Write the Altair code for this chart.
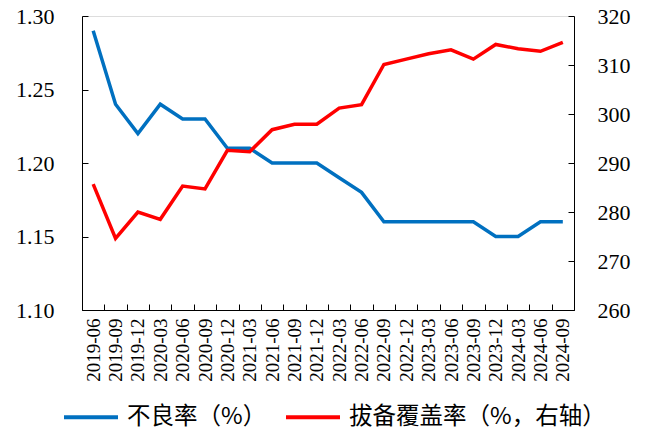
import altair as alt
import pandas as pd

categories = ["2019-06", "2019-09", "2019-12", "2020-03", "2020-06", "2020-09",
              "2020-12", "2021-03", "2021-06", "2021-09", "2021-12", "2022-03",
              "2022-06", "2022-09", "2022-12", "2023-03", "2023-06", "2023-09",
              "2023-12", "2024-03", "2024-06", "2024-09"]
npl = [1.29, 1.24, 1.22, 1.24, 1.23, 1.23, 1.21, 1.21, 1.20, 1.20, 1.20, 1.19,
       1.18, 1.16, 1.16, 1.16, 1.16, 1.16, 1.15, 1.15, 1.16, 1.16]
coverage = [285.7, 274.6, 280.0, 278.5, 285.3, 284.7, 292.6, 292.3, 296.8, 297.9,
            297.9, 301.2, 301.9, 310.1, 311.2, 312.3, 313.1, 311.2, 314.2, 313.3,
            312.8, 314.6]
series_names = ["不良率（%）", "拔备覆盖率（%，右轴）"]
series_colors = ["#0070C0", "#FF0000"]
left_ticks = [1.10, 1.15, 1.20, 1.25, 1.30]
right_ticks = [260, 270, 280, 290, 300, 310, 320]

df_npl = pd.DataFrame({"period": categories, "value": npl, "series": series_names[0]})
df_cov = pd.DataFrame({"period": categories, "value": coverage, "series": series_names[1]})

serif = "Liberation Serif"
W, H = 492, 294
TICK = 6

x_enc = alt.X(
    "period:O", sort=categories,
    scale=alt.Scale(type="band", paddingInner=0, paddingOuter=0),
    axis=alt.Axis(title=None, labelAngle=270, ticks=False, grid=True,
                  gridDash=[0, H - TICK, TICK, 2000], gridColor="#000000", gridWidth=1,
                  tickBand="extent", labelPadding=8, labelFontSize=19,
                  labelFont=serif, labelColor="#000000", domainColor="#000000",
                  labelBaseline="middle", labelAlign="right"),
)

color_enc = alt.Color(
    "series:N",
    scale=alt.Scale(domain=series_names, range=series_colors),
    legend=alt.Legend(title=None, orient="none", direction="horizontal",
                      legendX=-20, legendY=372, symbolType="stroke",
                      symbolSize=2916, symbolStrokeWidth=4, labelOffset=7,
                      columnPadding=11, labelFont="Noto Sans CJK SC",
                      labelFontSize=23.5, labelColor="#000000", labelLimit=400),
)

left = alt.Chart(df_npl).mark_line(strokeWidth=3.5).encode(
    x=x_enc,
    y=alt.Y("value:Q", scale=alt.Scale(domain=[1.10, 1.30], zero=False, nice=False),
            axis=alt.Axis(title=None, orient="left", values=left_ticks, format=".2f",
                          ticks=False, grid=True, gridDash=[TICK, 2000],
                          gridColor="#000000", gridWidth=1, labelPadding=28,
                          labelFontSize=22, labelFont=serif, labelColor="#000000",
                          domainColor="#000000")),
    color=color_enc,
)

right = alt.Chart(df_cov).mark_line(strokeWidth=3.5).encode(
    x=x_enc,
    y=alt.Y("value:Q", scale=alt.Scale(domain=[260, 320], zero=False, nice=False),
            axis=alt.Axis(title=None, orient="right", values=right_ticks, format="d",
                          ticks=False, grid=True, gridDash=[TICK, 2000],
                          gridColor="#000000", gridWidth=1, labelPadding=23,
                          labelFontSize=22, labelFont=serif, labelColor="#000000",
                          domainColor="#000000")),
    color=color_enc,
)

chart = alt.layer(left, right).resolve_scale(y="independent").properties(
    width=W, height=H,
    autosize=alt.AutoSizeParams(type="none"),
    padding={"left": 74, "top": 8, "right": 74, "bottom": 117},
).configure_view(stroke=None).configure(background="white")

chart.save("out.html", embed_options={"renderer": "svg", "actions": False})
